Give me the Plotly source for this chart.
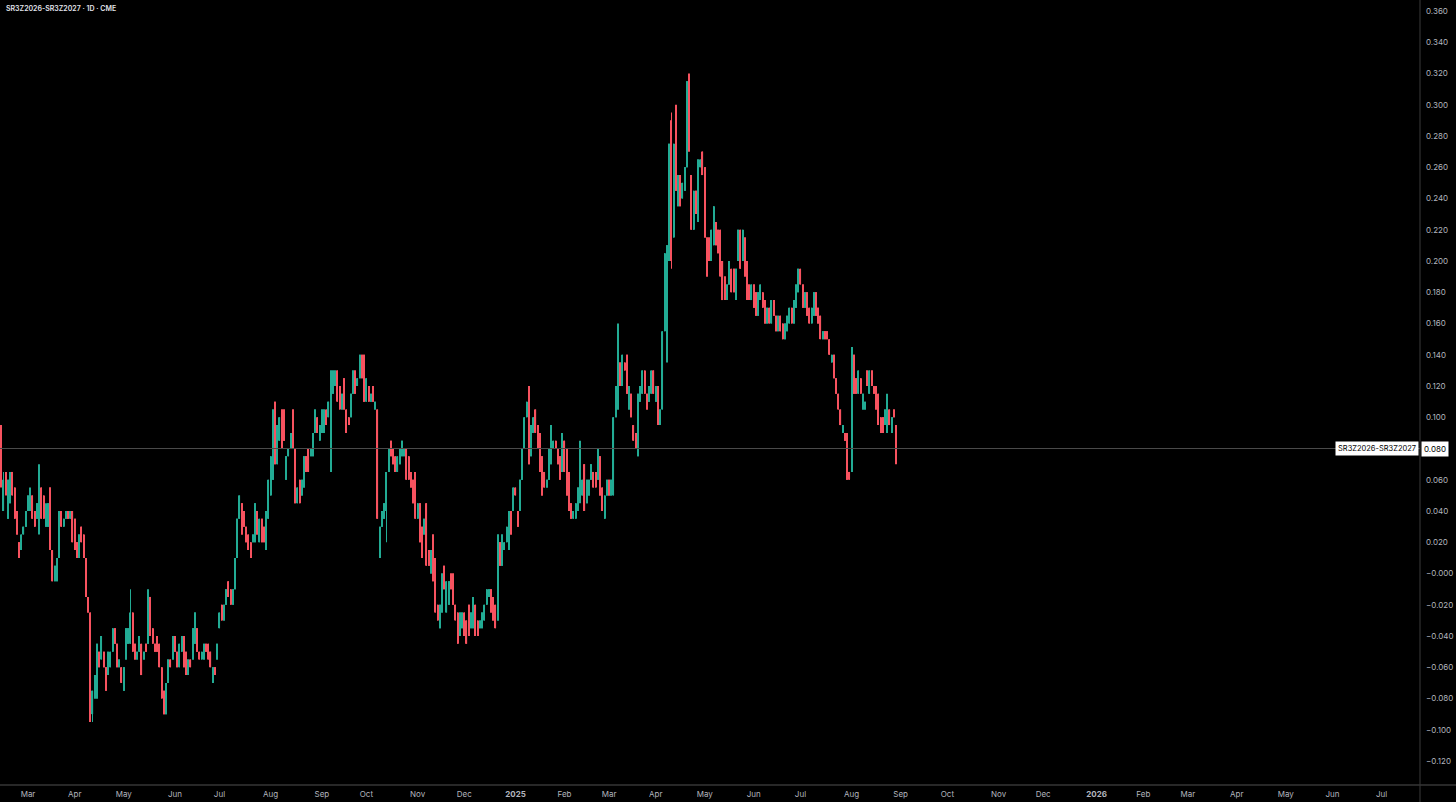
import pandas as pd
import plotly.graph_objects as go

# ---------------- data (daily bars, SR3Z2026-SR3Z2027 spread) ----------------
first_day = "2024-02-14"

open_ = [
    .090,.040,.065,.035,.045,.065,.055,.035,.020,.015, .025,.030,.040,.040,.050,.040,.035,.030,.055,.050,
    .030,.030,.055,.015,-.005,-.005,.010,.040,.030,.035, .040,.035,.040,.035,.020,.010,.030,.025,.010,-.015,
    -.025,
    -.090,-.080,-.080,-.050,-.055,-.050,-.060,-.065,-.060,-.050,
    -.035,-.045,-.060,-.060,-.075,-.055,-.045,-.045,-.025,-.045,
    -.055,-.050,-.045,-.055,-.045,-.045,-.015,-.035,-.045,-.040,
    -.045,-.060,-.075,-.090,-.070,-.055,-.055,-.040,-.050,-.060,
    -.050,-.040,-.050,-.065,-.055,-.055,-.045,-.035,-.050,-.055,
    -.055,-.045,-.045,-.050,-.070,-.060,-.055,-.035,-.020,-.030,
    -.020,-.005,-.010,-.020,-.010,.010,
    .035,.045,.040,.030,.025,.020,.020,.020,.040,.020,
    .035,.030,.015,.035,.050,.060,.110,.070,.085,.105,
    .105,.060,.075,.080,.105,.080,.045,.060,.050,.055,
    .075,.080,.075,.075,.090,.100,.085,.090,.090,.105,
    .100,.115,.115,.120,.130,.120,.105,.125,.105,.100,
    .100,.115,.130,.120,.125,.140,.140,.110,.120,.110,
    .120,.105,.105,.010,.030,.035,.040,.065,.085,.080,
    .075,.065,.070,.075,.075,.080,.075,.065,.060,.065,
    .035,.045,.030,.025,.045,.015,.000,.025,.010,-.020,
    -.035,-.025,.005,-.025,-.020,.000,.000,-.020,-.025,-.040,
    -.035,-.025,-.030,-.020,-.035,-.035,-.020,-.030,
    -.035,-.035,-.030,-.020,-.015,-.010,-.015,-.020,-.030,.020,
    .005,.015,.020,.015,.040,.040,.055,.040,.040,.060,
    .080,.100,.120,.075,.090,.105,.095,.090,.075,.065,
    .055,.060,.070,.080,.085,.080,.075,.065,.085,.080,
    .065,.045,.035,.035,.040,.055,.050,.070,.045,.050,
    .060,.065,.065,.060,.075,.055,.035,.050,.060,.050,
    .050,.100,.105,.135,.120,.135,.140,.105,.115,.095,
    .090,.075,.110,.115,.130,.115,.110,.115,.130,.110,
    .120,.095,.105,.155,.140,
    .200,.290,.215,.280,.235,.255,.240,.245,.260,.315,
    .255,.220,.245,.225,.260,.270,.260,.215,.215,.200,
    .210,.225,.220,.220,.200,.190,.175,.185,.195,.195,
    .175,.200,.220,.200,.215,.200,.185,
    .175,.185,.180,.165,.175,.180,.175,.160,.170,.160,
    .175,.165,.155,.165,.160,.150,.155,.160,.170,.160,
    .170,.180,.195,.185,.170,.180,.170,.160,.165,.180,
    .170,.165,
    .150,.155,.155,.150,.135,.140,.125,.115,.105,.090,
    .090,.090,.065,.065,.140,.125,.115,.125,.105,.105,
    .130,.115,.130,.120,.120,.115,.100,.100,.095,.090,
    .105,.090,.105,.095,
]

high = [
    .095,.065,.065,.060,.065,.065,.055,.040,.020,.025, .030,.040,.050,.055,.050,.040,.045,.070,.055,.050,
    .045,.045,.055,.015,.005,.010,.040,.040,.035,.040, .040,.040,.040,.035,.020,.025,.030,.025,.010,-.015,
    -.025,
    -.075,-.065,-.045,-.050,-.040,-.050,-.060,-.050,-.050,-.035,
    -.035,-.045,-.055,-.060,-.060,-.035,-.035,-.010,-.025,-.045,
    -.050,-.040,-.045,-.050,-.045,-.010,-.015,-.035,-.045,-.040,
    -.045,-.060,-.075,-.070,-.055,-.055,-.040,-.040,-.050,-.045,
    -.040,-.040,-.050,-.055,-.055,-.035,-.025,-.035,-.050,-.050,
    -.045,-.045,-.045,-.050,-.060,-.060,-.045,-.025,-.020,-.020,
    -.010,-.005,-.010,-.010,.010,.035,
    .050,.045,.040,.030,.025,.020,.025,.045,.040,.035,
    .035,.030,.040,.060,.075,.105,.110,.095,.100,.105,
    .105,.075,.080,.090,.105,.080,.055,.060,.060,.075,
    .075,.080,.080,.090,.105,.100,.095,.105,.105,.105,
    .110,.130,.130,.130,.130,.120,.115,.125,.105,.100,
    .115,.130,.130,.125,.140,.140,.140,.125,.120,.115,
    .120,.110,.105,.030,.040,.045,.065,.080,.085,.080,
    .075,.075,.080,.085,.080,.080,.075,.065,.060,.065,
    .045,.045,.030,.035,.045,.015,.015,.025,.010,-.020,
    -.020,.000,.005,-.005,-.005,.000,.000,-.020,-.025,-.025,
    -.025,-.025,-.030,-.020,-.025,-.015,-.020,-.030,
    -.030,-.025,-.020,-.010,-.010,-.010,-.015,-.020,.025,.020,
    .025,.020,.030,.040,.040,.055,.055,.040,.060,.080,
    .100,.110,.120,.095,.100,.105,.095,.090,.075,.065,
    .060,.080,.095,.085,.085,.080,.075,.090,.085,.080,
    .065,.045,.040,.045,.055,.085,.060,.070,.060,.060,
    .070,.065,.065,.080,.075,.055,.050,.060,.060,.060,
    .100,.120,.160,.135,.140,.135,.140,.120,.115,.095,
    .090,.115,.120,.130,.130,.115,.120,.130,.130,.120,
    .120,.105,.155,.205,.210,
    .275,.295,.275,.300,.255,.255,.250,.260,.315,.320,
    .255,.245,.245,.265,.265,.270,.260,.215,.215,.220,
    .235,.225,.220,.220,.200,.190,.185,.200,.195,.195,
    .195,.220,.220,.220,.215,.200,.185,
    .185,.185,.180,.180,.185,.180,.175,.170,.170,.175,
    .175,.165,.165,.165,.160,.160,.165,.170,.170,.175,
    .185,.195,.195,.185,.180,.180,.170,.170,.180,.180,
    .170,.165,
    .155,.155,.155,.150,.140,.140,.125,.115,.105,.095,
    .090,.090,.065,.145,.140,.125,.130,.125,.115,.110,
    .130,.130,.130,.120,.120,.115,.100,.100,.105,.115,
    .105,.100,.105,.095,
]

low = [
    .055,.040,.050,.035,.045,.050,.035,.025,.010,.015, .025,.030,.040,.040,.035,.030,.035,.025,.035,.035,
    .030,.030,.015,-.005,-.005,-.005,.010,.030,.030,.035, .035,.035,.020,.015,.010,.010,.020,.010,-.015,-.025,
    -.095,
    -.095,-.080,-.080,-.060,-.055,-.060,-.075,-.065,-.060,-.050,
    -.045,-.060,-.060,-.070,-.075,-.055,-.045,-.045,-.050,-.055,
    -.055,-.050,-.065,-.055,-.050,-.045,-.040,-.045,-.050,-.050,
    -.060,-.080,-.090,-.090,-.070,-.060,-.055,-.050,-.060,-.060,
    -.050,-.060,-.065,-.065,-.060,-.055,-.045,-.050,-.055,-.055,
    -.055,-.050,-.055,-.060,-.070,-.065,-.055,-.035,-.030,-.030,
    -.020,-.015,-.020,-.020,-.010,.010,
    .035,.025,.030,.020,.015,.010,.020,.020,.025,.020,
    .020,.020,.015,.035,.050,.060,.070,.070,.085,.080,
    .085,.060,.075,.080,.080,.045,.045,.045,.050,.055,
    .065,.065,.075,.075,.090,.090,.085,.090,.090,.095,
    .100,.065,.115,.120,.110,.105,.105,.105,.090,.095,
    .100,.115,.115,.120,.125,.125,.110,.110,.110,.110,
    .110,.105,.035,.010,.030,.035,.020,.065,.075,.070,
    .065,.065,.070,.075,.075,.060,.060,.055,.045,.035,
    .035,.020,.010,.025,.005,.005,.000,-.005,-.025,-.030,
    -.035,-.025,-.010,-.025,-.020,-.010,-.020,-.030,-.045,-.040,
    -.035,-.040,-.045,-.040,-.035,-.035,-.040,-.040,
    -.035,-.035,-.030,-.020,-.015,-.025,-.030,-.035,-.030,.005,
    .005,.015,.020,.015,.025,.040,.050,.030,.040,.060,
    .080,.100,.070,.075,.090,.090,.080,.065,.050,.055,
    .055,.060,.070,.080,.080,.070,.060,.065,.065,.050,
    .040,.035,.035,.035,.040,.045,.050,.040,.045,.050,
    .060,.055,.055,.060,.050,.040,.035,.050,.050,.050,
    .050,.100,.105,.120,.120,.130,.115,.105,.100,.085,
    .080,.075,.110,.115,.115,.105,.110,.115,.115,.110,
    .095,.095,.105,.155,.135,
    .200,.195,.215,.245,.235,.235,.240,.245,.260,.270,
    .220,.220,.230,.225,.260,.255,.215,.190,.200,.200,
    .210,.210,.205,.190,.175,.175,.175,.185,.180,.180,
    .175,.200,.195,.200,.190,.175,.175,
    .175,.170,.165,.165,.175,.170,.160,.160,.160,.160,
    .165,.155,.155,.155,.150,.150,.155,.160,.160,.160,
    .170,.180,.185,.170,.170,.165,.160,.160,.165,.165,
    .160,.150,
    .150,.150,.150,.140,.135,.125,.115,.105,.095,.090,
    .085,.060,.060,.065,.115,.115,.115,.115,.105,.105,
    .120,.115,.120,.115,.105,.095,.090,.090,.095,.090,
    .095,.090,.100,.070,
]

close_ = [
    .060,.060,.055,.060,.065,.050,.035,.025,.010,.025, .030,.035,.050,.050,.035,.030,.045,.055,.035,.035,
    .040,.045,.015,-.005,.005,.010,.040,.030,.035,.040, .035,.040,.020,.015,.010,.025,.020,.010,-.015,-.025,
    -.095,
    -.075,-.065,-.045,-.060,-.040,-.060,-.075,-.050,-.050,-.035,
    -.045,-.060,-.055,-.070,-.060,-.035,-.035,-.025,-.050,-.055,
    -.050,-.040,-.065,-.050,-.050,-.020,-.040,-.045,-.050,-.050,
    -.060,-.080,-.090,-.070,-.055,-.060,-.040,-.050,-.060,-.045,
    -.040,-.060,-.065,-.055,-.060,-.035,-.025,-.050,-.055,-.050,
    -.045,-.050,-.055,-.060,-.060,-.065,-.045,-.025,-.030,-.020,
    -.010,-.015,-.020,-.010,.010,.035,
    .050,.025,.030,.020,.015,.010,.025,.045,.025,.035,
    .020,.020,.040,.060,.075,.105,.070,.095,.100,.080,
    .085,.075,.080,.090,.080,.045,.055,.045,.060,.075,
    .065,.065,.080,.090,.105,.090,.095,.105,.105,.095,
    .110,.130,.130,.130,.110,.105,.115,.105,.090,.095,
    .115,.130,.115,.125,.140,.125,.110,.125,.110,.115,
    .110,.110,.035,.030,.040,.045,.065,.080,.075,.070,
    .065,.075,.080,.085,.080,.060,.060,.055,.045,.035,
    .045,.020,.010,.035,.005,.005,.015,-.005,-.025,-.030,
    -.020,.000,-.010,-.005,-.005,-.010,-.020,-.030,-.045,-.025,
    -.025,-.040,-.045,-.040,-.025,-.015,-.040,-.040,
    -.030,-.025,-.020,-.010,-.010,-.025,-.030,-.035,.025,.005,
    .025,.020,.030,.040,.025,.055,.050,.030,.060,.080,
    .100,.110,.070,.095,.100,.090,.080,.065,.050,.055,
    .060,.080,.095,.085,.080,.070,.060,.090,.065,.050,
    .040,.035,.040,.045,.055,.070,.060,.040,.060,.060,
    .070,.055,.055,.080,.050,.040,.050,.060,.050,.060,
    .100,.120,.135,.120,.140,.130,.115,.120,.100,.085,
    .080,.115,.120,.130,.115,.105,.120,.130,.115,.120,
    .095,.105,.155,.205,.210,
    .275,.200,.275,.245,.255,.235,.250,.260,.315,.270,
    .220,.245,.230,.265,.265,.255,.215,.190,.200,.220,
    .235,.210,.205,.190,.175,.175,.185,.200,.180,.180,
    .195,.220,.195,.220,.190,.175,.175,
    .185,.170,.165,.180,.185,.170,.160,.170,.160,.175,
    .165,.155,.165,.155,.150,.160,.165,.170,.160,.175,
    .185,.195,.185,.170,.180,.165,.160,.170,.180,.165,
    .160,.150,
    .155,.150,.150,.140,.140,.125,.115,.105,.095,.095,
    .085,.060,.060,.145,.115,.115,.130,.115,.115,.110,
    .120,.130,.120,.115,.105,.095,.090,.090,.105,.105,
    .095,.100,.100,.080,
]

last_price = 0.080
symbol = "SR3Z2026-SR3Z2027"
title_text = "SR3Z2026-SR3Z2027 · 1D · CME"

x_tick_dates = ["2024-03-01", "2024-04-01", "2024-05-01", "2024-06-03", "2024-07-01", "2024-08-01",
                "2024-09-03", "2024-10-01", "2024-11-01", "2024-12-02", "2025-01-02", "2025-02-03",
                "2025-03-03", "2025-04-01", "2025-05-01", "2025-06-02", "2025-07-01", "2025-08-01",
                "2025-09-02", "2025-10-01", "2025-11-03", "2025-12-01", "2026-01-02", "2026-02-02",
                "2026-03-02", "2026-04-01", "2026-05-01", "2026-06-01", "2026-07-01"]
x_tick_labels = ["Mar", "Apr", "May", "Jun", "Jul", "Aug", "Sep", "Oct", "Nov", "Dec", "2025", "Feb",
                 "Mar", "Apr", "May", "Jun", "Jul", "Aug", "Sep", "Oct", "Nov", "Dec", "2026", "Feb",
                 "Mar", "Apr", "May", "Jun", "Jul"]

y_tick_vals = [-0.12, -0.10, -0.08, -0.06, -0.04, -0.02, 0.0, 0.02, 0.04, 0.06, 0.08, 0.10, 0.12,
               0.14, 0.16, 0.18, 0.20, 0.22, 0.24, 0.26, 0.28, 0.30, 0.32, 0.34, 0.36]
y_tick_labels = ["−0.120", "−0.100", "−0.080", "−0.060", "−0.040", "−0.020", "−0.000", "0.020",
                 "0.040", "0.060", "0.080", "0.100", "0.120", "0.140", "0.160", "0.180", "0.200",
                 "0.220", "0.240", "0.260", "0.280", "0.300", "0.320", "0.340", "0.360"]

assert len(open_) == len(high) == len(low) == len(close_)

# ---------------- styling ----------------
UP = "#22ab94"
DOWN = "#f7525f"
BG = "#000000"
TXT = "#b2b5be"
FONT = "Inter"
DAY_MS = 86400000
NOON = pd.Timedelta(hours=12)

# bar centres at midday so a bar never straddles a weekend break
dates = pd.bdate_range(first_day, periods=len(close_)) + NOON
tickpos = [pd.Timestamp(d) + NOON for d in x_tick_dates]

df = pd.DataFrame({"x": dates, "o": open_, "h": high, "l": low, "c": close_})
df["up"] = df["c"] >= df["o"]
df["body_lo"] = df[["o", "c"]].min(axis=1)
df["body_len"] = (df["o"] - df["c"]).abs().clip(lower=0.0009)
df["wick_len"] = (df["h"] - df["l"]).clip(lower=0.0009)

fig = go.Figure()
for is_up, color in ((True, UP), (False, DOWN)):
    sub = df[df["up"] == is_up]
    # wick (high-low)
    fig.add_trace(go.Bar(x=sub["x"], y=sub["wick_len"], base=sub["l"], width=0.28 * DAY_MS,
                         marker=dict(color=color, line=dict(width=0)), hoverinfo="skip"))
    # body (open-close)
    fig.add_trace(go.Bar(x=sub["x"], y=sub["body_len"], base=sub["body_lo"], width=0.52 * DAY_MS,
                         marker=dict(color=color, line=dict(width=0)), hoverinfo="skip"))

ticktext = [f"<b>{t}</b>" if t.isdigit() else t for t in x_tick_labels]

fig.update_layout(
    width=1456, height=802,
    margin=dict(l=0, r=36, t=0, b=17),
    paper_bgcolor=BG, plot_bgcolor=BG,
    showlegend=False, barmode="overlay",
    font=dict(family=FONT, size=8, color=TXT),
    xaxis=dict(
        type="date",
        range=[pd.Timestamp("2024-02-13 22:00"), pd.Timestamp("2026-07-24 19:00")],
        rangebreaks=[dict(bounds=["sat", "mon"])],
        showgrid=False, zeroline=False, showline=False,
        tickmode="array", tickvals=tickpos, ticktext=ticktext,
        ticks="", ticklabelstandoff=3,
        tickfont=dict(family=FONT, size=8, color=TXT),
        automargin=False, fixedrange=True,
    ),
    yaxis=dict(
        side="right",
        range=[-0.13536, 0.36704],
        showgrid=False, zeroline=False, showline=False,
        tickmode="array", tickvals=y_tick_vals, ticktext=y_tick_labels,
        ticks="", ticklabelstandoff=5,
        tickfont=dict(family=FONT, size=8, color=TXT),
        automargin=False, fixedrange=True,
    ),
    shapes=[
        dict(type="line", xref="paper", yref="y", x0=0, x1=1, y0=last_price, y1=last_price,
             line=dict(color="#4a4a4a", width=1), layer="above"),
        dict(type="line", xref="paper", yref="paper", x0=1, x1=1, y0=-17 / 785, y1=1,
             line=dict(color="#3a3a3a", width=1), layer="above"),
        dict(type="line", xref="paper", yref="paper", x0=0, x1=1456 / 1420, y0=0, y1=0,
             line=dict(color="#363636", width=1.5), layer="above"),
    ],
    annotations=[
        dict(xref="paper", yref="paper", x=0, y=1, xanchor="left", yanchor="top",
             xshift=4, yshift=-2, showarrow=False, text=title_text,
             font=dict(family=FONT, size=7, color="#e0e3eb", weight=600)),
        dict(xref="paper", yref="y", x=1, y=last_price, xanchor="right", yanchor="middle",
             xshift=-1, showarrow=False, text=symbol, bgcolor="#ffffff", borderpad=2,
             font=dict(family=FONT, size=7.5, color="#000000")),
        dict(xref="paper", yref="y", x=1, y=last_price, xanchor="left", yanchor="middle",
             xshift=1, showarrow=False, text=f"{last_price:.3f}", bgcolor="#ffffff", borderpad=2,
             font=dict(family=FONT, size=8, color="#000000")),
    ],
)

fig.write_html(
    "out.html",
    config={"displayModeBar": False},
    post_script="document.body.style.margin='0px';document.body.style.background='#000000';",
)
